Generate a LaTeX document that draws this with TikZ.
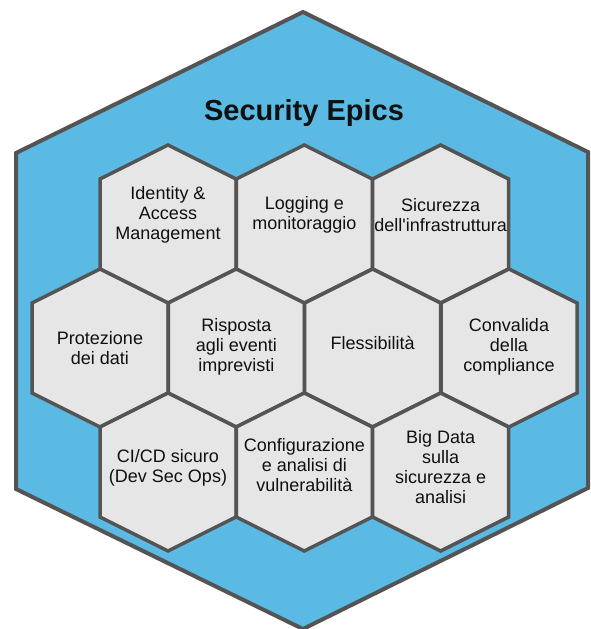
\documentclass[tikz,border=0pt]{standalone}
\usepackage{fontspec}
\setmainfont{Liberation Sans}
\begin{document}
\begin{tikzpicture}[x=1pt,y=-1pt]
  \definecolor{skyblue}{HTML}{5BBAE4}
  \definecolor{cellgray}{HTML}{E6E6E6}
  \definecolor{edgegray}{HTML}{545454}
  \definecolor{inkblack}{HTML}{101010}
  \tikzset{
    frame/.style={draw=edgegray, line width=4pt, fill=skyblue},
    cellline/.style={draw=edgegray, line width=3.5pt, fill=cellgray},
    cell/.pic={\path[cellline] (0,-79) -- (68,-45) -- (68,45) -- (0,79) -- (-68,45) -- (-68,-45) -- cycle;},
    label/.style={align=center, text=inkblack, inner sep=0pt,
      font=\fontsize{18}{20}\selectfont},
    heading/.style={text=inkblack, inner sep=0pt,
      font=\fontsize{29}{32}\selectfont\bfseries}
  }
  \useasboundingbox (0,0) rectangle (590,629);

  % outer frame
  \path[frame] (303,12) -- (588,152) -- (588,488) -- (303,629) -- (16,489) -- (16,153) -- cycle;
  \node[heading, anchor=base] (title) at (304,120) {Security Epics};

  % honeycomb cells
  \pic at (168,224) {cell};
  \pic at (304.3,224) {cell};
  \pic at (440.6,224) {cell};
  \pic at (100,348) {cell};
  \pic at (236.3,348) {cell};
  \pic at (372.6,348) {cell};
  \pic at (509,348) {cell};
  \pic at (168,472) {cell};
  \pic at (304.3,472) {cell};
  \pic at (440.6,472) {cell};

  % cell labels
  \node[label] (iam)   at (168,215)   {Identity \&\\Access\\Management};
  \node[label] (log)   at (304.3,215) {Logging e\\monitoraggio};
  \node[label] (infra) at (440.6,215) {Sicurezza\\dell\textquotesingle infrastruttura};
  \node[label] (data)  at (100,348)   {Protezione\\dei dati};
  \node[label] (resp)  at (236.3,347) {Risposta\\agli eventi\\imprevisti};
  \node[label] (flex)  at (372.6,343) {Flessibilità};
  \node[label] (comp)  at (509,347)   {Convalida\\della\\compliance};
  \node[label] (cicd)  at (168,468)   {CI/CD sicuro\\(Dev Sec Ops)};
  \node[label] (vuln)  at (304.3,465) {Configurazione\\e analisi di\\vulnerabilità};
  \node[label] (big)   at (440.6,467) {Big Data\\sulla\\sicurezza e\\analisi};
\end{tikzpicture}
\end{document}
